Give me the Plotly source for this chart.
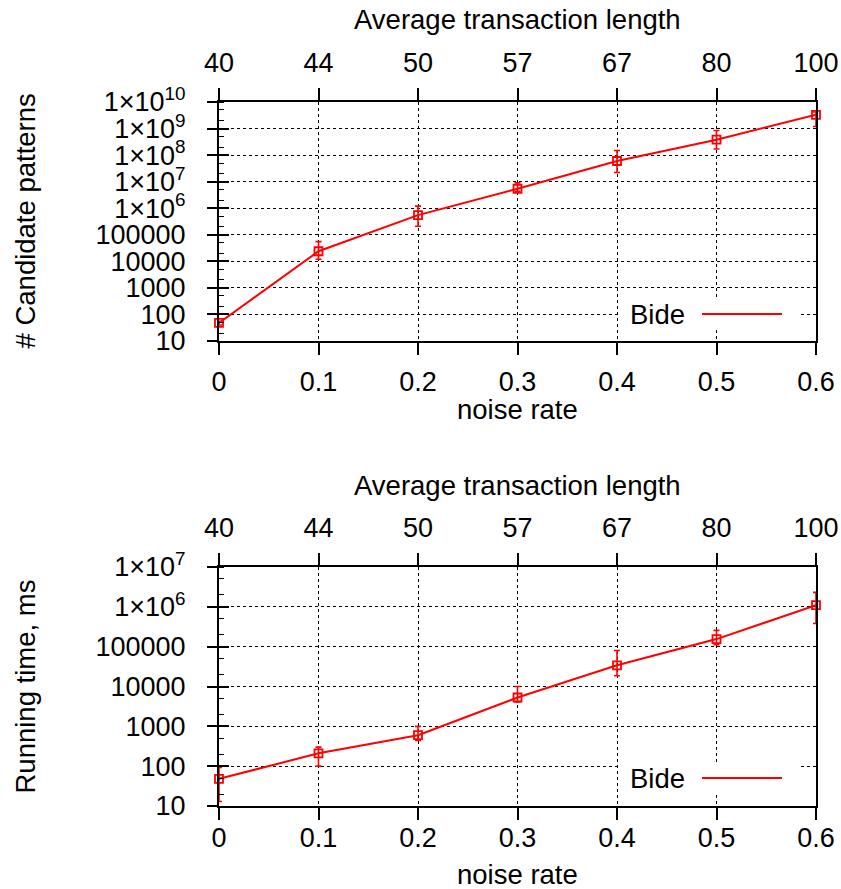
import plotly.graph_objects as go

# ---- data ----
noise_rate = [0, 0.1, 0.2, 0.3, 0.4, 0.5, 0.6]
avg_len_labels = ["40", "44", "50", "57", "67", "80", "100"]

cand_patterns = [48, 24000, 550000, 5.4e6, 6.0e7, 3.8e8, 3.3e9]
cand_hi = [55, 55000, 1.2e6, 9.0e6, 1.5e8, 8.5e8, 4.2e9]
cand_lo = [40, 12000, 2.1e5, 4.3e6, 2.2e7, 1.7e8, 1.2e9]

run_time = [48, 210, 600, 5300, 34000, 155000, 1.1e6]
run_hi = [93, 300, 1000, 10000, 80000, 257000, 2.3e6]
run_lo = [13, 100, 440, 4100, 18600, 112000, 3.8e5]

series_name = "Bide"

top_ticks_vals = [10 ** k for k in range(1, 11)]
top_ticks_text = ["10", "100", "1000", "10000", "100000"] + \
    ["1×10<sup>%d</sup>" % k for k in range(6, 11)]
bot_ticks_vals = [10 ** k for k in range(1, 8)]
bot_ticks_text = ["10", "100", "1000", "10000", "100000"] + \
    ["1×10<sup>%d</sup>" % k for k in range(6, 8)]

# ---- styling ----
RED = "#ff0000"
FONT = "Liberation Sans, Arial, sans-serif"
FS = 27
FT = 27.5
W, H = 841, 889
L, R = 219, 25

def py(px):
    return (H - px) / H

top_dom = [py(341), py(102)]
bot_dom = [py(806), py(567)]

fig = go.Figure()

def add_series(yvals, hi, lo, xa, ya):
    fig.add_trace(go.Scatter(
        x=noise_rate, y=yvals, xaxis=xa, yaxis=ya,
        mode="lines+markers", name=series_name, showlegend=False,
        line=dict(color=RED, width=2),
        marker=dict(symbol="square-open", size=8, color=RED,
                    line=dict(color=RED, width=1.8)),
        error_y=dict(type="data", symmetric=False,
                     array=[h - v for h, v in zip(hi, yvals)],
                     arrayminus=[v - l for l, v in zip(lo, yvals)],
                     color=RED, thickness=1.6, width=3),
        cliponaxis=False,
    ))

def add_ghost(yvals, xa, ya):
    # invisible trace so the overlaying (secondary) axes get drawn
    fig.add_trace(go.Scatter(
        x=noise_rate, y=yvals, xaxis=xa, yaxis=ya, mode="markers",
        marker=dict(opacity=0, size=1), showlegend=False, hoverinfo="skip"))

add_series(cand_patterns, cand_hi, cand_lo, "x", "y")
add_series(run_time, run_hi, run_lo, "x3", "y3")
add_ghost(cand_patterns, "x2", "y")
add_ghost(cand_patterns, "x", "y2")
add_ghost(run_time, "x4", "y3")
add_ghost(run_time, "x3", "y4")

tickfont = dict(family=FONT, size=FS, color="black")

def xbottom(anchor, standoff):
    return dict(domain=[0, 1], anchor=anchor, range=[0, 0.6],
                tickvals=noise_rate, ticktext=[str(v) for v in noise_rate],
                ticks="outside", ticklen=12, tickwidth=1.5, tickcolor="black",
                showline=True, linewidth=2, linecolor="black", mirror=True,
                showgrid=True, gridcolor="black", griddash="dot", gridwidth=1,
                zeroline=False, tickfont=tickfont, ticklabelstandoff=standoff)

def xtop(over, anchor):
    return dict(overlaying=over, anchor=anchor, side="top", range=[0, 0.6],
                tickvals=noise_rate, ticktext=avg_len_labels,
                ticks="outside", ticklen=12, tickwidth=1.5, tickcolor="black",
                showline=True, linewidth=2, linecolor="black",
                showgrid=False, zeroline=False, tickfont=tickfont,
                ticklabelstandoff=5)

def ymain(dom, anchor, rng, tv, tt):
    return dict(domain=dom, anchor=anchor, type="log", range=rng,
                tickvals=tv, ticktext=tt,
                ticks="outside", ticklen=10, tickwidth=1.5, tickcolor="black",
                minor=dict(ticks="inside", ticklen=5, tickwidth=1.2,
                           tickcolor="black", showgrid=False),
                showline=True, linewidth=2, linecolor="black", mirror=True,
                showgrid=True, gridcolor="black", griddash="dot", gridwidth=1,
                zeroline=False, tickfont=tickfont, ticklabelstandoff=16)

def yinner(over, anchor, rng, tv):
    return dict(overlaying=over, anchor=anchor, type="log", range=rng,
                tickvals=tv, showticklabels=False,
                ticks="inside", ticklen=10, tickwidth=1.5, tickcolor="black",
                showline=False, showgrid=False, zeroline=False)

fig.update_layout(
    width=W, height=H,
    margin=dict(l=L, r=R, t=0, b=0, autoexpand=False),
    paper_bgcolor="white", plot_bgcolor="white",
    font=dict(family=FONT, size=FS, color="black"),
    showlegend=False,
    xaxis=xbottom("y", 4),
    xaxis2=xtop("x", "y"),
    yaxis=ymain(top_dom, "x", [1, 10], top_ticks_vals, top_ticks_text),
    yaxis2=yinner("y", "x", [1, 10], top_ticks_vals),
    xaxis3=xbottom("y3", -5),
    xaxis4=xtop("x3", "y3"),
    yaxis3=ymain(bot_dom, "x3", [1, 7], bot_ticks_vals, bot_ticks_text),
    yaxis4=yinner("y3", "x3", [1, 7], bot_ticks_vals),
)

plot_w = W - L - R

def ann(text, x, y, xref="paper", yref="paper", angle=0):
    fig.add_annotation(text=text, x=x, y=y, xref=xref, yref=yref,
                       xanchor="center", yanchor="middle", showarrow=False,
                       textangle=angle, font=dict(family=FONT, size=FT, color="black"))

# axis titles
ann("Average transaction length", 0.5, py(19))
ann("noise rate", 0.5, py(409))
ann("Average transaction length", 0.5, py(485))
ann("noise rate", 0.5, py(874))
ann("# Candidate patterns", (25 - L) / plot_w, (top_dom[0] + top_dom[1]) / 2, angle=-90)
ann("Running time, ms", (25 - L) / plot_w, (bot_dom[0] + bot_dom[1]) / 2, angle=-90)

# custom key (text then line sample, gnuplot style)
def key(xd, yd, leg_y_frac):
    fig.add_shape(type="rect", xref=xd, yref=yd,
                  x0=(618 - L) / plot_w, x1=(798 - L) / plot_w,
                  y0=leg_y_frac - 0.06, y1=leg_y_frac + 0.06,
                  fillcolor="white", line=dict(width=0), layer="above")
    fig.add_annotation(text=series_name, x=(657 - L) / plot_w, y=leg_y_frac,
                       xref=xd, yref=yd, xanchor="center", yanchor="middle",
                       showarrow=False, font=dict(family=FONT, size=FT, color="black"))
    fig.add_shape(type="line", xref=xd, yref=yd,
                  x0=(702 - L) / plot_w, x1=(782 - L) / plot_w,
                  y0=leg_y_frac, y1=leg_y_frac,
                  line=dict(color=RED, width=2), layer="above")

key("x domain", "y domain", (341 - 314) / 239)
key("x3 domain", "y3 domain", (806 - 778) / 239)

fig.write_html("out.html", config={"displayModeBar": False},
               post_script="document.body.style.margin='0';document.body.style.padding='0';")
